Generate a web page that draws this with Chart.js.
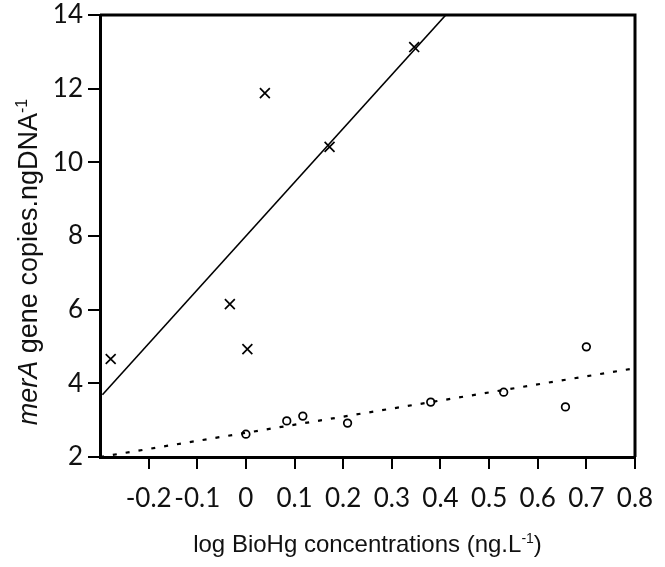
<!DOCTYPE html>
<html>
<head>
<meta charset="utf-8">
<script src="https://cdn.jsdelivr.net/npm/chart.js@4/dist/chart.umd.min.js"></script>
<style>
  html, body { margin: 0; padding: 0; background: #fff; }
  #wrap { width: 665px; height: 567px; }
</style>
</head>
<body>
<div id="wrap"><canvas id="chart" width="665" height="567"></canvas></div>
<script>
// values
const xTickValues = [-0.2, -0.1, 0, 0.1, 0.2, 0.3, 0.4, 0.5, 0.6, 0.7, 0.8];
const yTickValues = [2, 4, 6, 8, 10, 12, 14];

const crossX = [-0.278, -0.033, 0.003, 0.039, 0.172, 0.346];
const crossY = [4.66, 6.15, 4.93, 11.88, 10.42, 13.13];

const circleX = [0.0, 0.084, 0.117, 0.209, 0.38, 0.53, 0.657, 0.70];
const circleY = [2.62, 2.98, 3.11, 2.92, 3.49, 3.76, 3.36, 4.99];

// fitted lines, end points
const solidFitX = [-0.295, 0.411];
const solidFitY = [3.69, 14.0];
const dottedFitX = [-0.3, 0.8];
const dottedFitY = [2.0, 4.41];

const xTitleParts = [
  { text: 'log BioHg concentrations (ng.L' },
  { text: '-1', sup: true },
  { text: ')' }
];
const yTitleParts = [
  { text: 'merA', italic: true },
  { text: ' gene copies.ngDNA' },
  { text: '-1', sup: true }
];

const ink = '#111';
const tickFont = { family: 'Lato', size: 26, lineHeight: 1 };

function toPoints(xs, ys) {
  return xs.map((x, i) => ({ x: x, y: ys[i] }));
}

function partFont(part, size) {
  const s = part.sup ? Math.round(size * 0.6) : size;
  return (part.italic ? 'italic ' : '') + s + 'px "Liberation Sans", Arial, sans-serif';
}

// draws a centered line of text with italic / superscript pieces
function drawRichText(ctx, parts, cx, baseline, size) {
  let total = 0;
  parts.forEach(p => {
    ctx.font = partFont(p, size);
    total += ctx.measureText(p.text).width;
  });
  let x = cx - total / 2;
  parts.forEach(p => {
    ctx.font = partFont(p, size);
    const y = p.sup ? baseline - size * 0.38 : baseline;
    ctx.fillText(p.text, x, y);
    x += ctx.measureText(p.text).width;
  });
}

const frameAndTitles = {
  id: 'frameAndTitles',
  afterDraw(chart) {
    const ctx = chart.ctx;
    const area = chart.chartArea;
    ctx.save();
    // top and right sides of the box
    ctx.strokeStyle = '#000';
    ctx.lineWidth = 3;
    ctx.beginPath();
    ctx.moveTo(area.left, area.top);
    ctx.lineTo(area.right, area.top);
    ctx.lineTo(area.right, area.bottom);
    ctx.stroke();

    ctx.fillStyle = ink;
    ctx.textAlign = 'left';
    ctx.textBaseline = 'alphabetic';
    drawRichText(ctx, xTitleParts, (area.left + area.right) / 2, 552, 24);

    ctx.translate(37, 262);
    ctx.rotate(-Math.PI / 2);
    drawRichText(ctx, yTitleParts, 0, 0, 27);
    ctx.restore();
  }
};

new Chart(document.getElementById('chart'), {
  type: 'scatter',
  data: {
    datasets: [
      {
        data: toPoints(crossX, crossY),
        pointStyle: 'crossRot',
        pointRadius: 7,
        borderColor: '#000',
        borderWidth: 1.7
      },
      {
        data: toPoints(circleX, circleY),
        pointStyle: 'circle',
        pointRadius: 3.8,
        backgroundColor: 'rgba(0,0,0,0)',
        borderColor: '#000',
        borderWidth: 1.7
      },
      {
        type: 'line',
        data: toPoints(solidFitX, solidFitY),
        borderColor: '#000',
        borderWidth: 1.6,
        pointRadius: 0,
        fill: false
      },
      {
        type: 'line',
        data: toPoints(dottedFitX, dottedFitY),
        borderColor: '#000',
        borderWidth: 2.2,
        borderDash: [4, 9],
        pointRadius: 0,
        fill: false
      }
    ]
  },
  options: {
    responsive: false,
    animation: false,
    layout: { padding: { top: 15, right: 30, left: 0, bottom: 0 } },
    plugins: {
      legend: { display: false },
      tooltip: { enabled: false }
    },
    scales: {
      x: {
        type: 'linear',
        min: -0.3,
        max: 0.8,
        afterBuildTicks: axis => {
          axis.ticks = xTickValues.map(v => ({ value: v }));
        },
        afterFit: axis => {
          axis.height = 110;
          axis.paddingLeft = 0;
          axis.paddingRight = 0;
        },
        ticks: {
          color: ink,
          font: tickFont,
          padding: 17,
          maxRotation: 0,
          autoSkip: false,
          callback: v => String(Math.round(v * 10) / 10)
        },
        grid: {
          drawOnChartArea: false,
          drawTicks: true,
          tickLength: 12,
          color: '#000',
          lineWidth: 2
        },
        border: { display: true, color: '#000', width: 3 }
      },
      y: {
        type: 'linear',
        min: 2,
        max: 14,
        afterBuildTicks: axis => {
          axis.ticks = yTickValues.map(v => ({ value: v }));
        },
        afterFit: axis => {
          axis.width = 100;
          axis.paddingTop = 0;
          axis.paddingBottom = 0;
        },
        ticks: {
          color: ink,
          font: tickFont,
          padding: 5,
          autoSkip: false
        },
        grid: {
          drawOnChartArea: false,
          drawTicks: true,
          tickLength: 12,
          color: '#000',
          lineWidth: 2
        },
        border: { display: true, color: '#000', width: 3 }
      }
    }
  },
  plugins: [frameAndTitles]
});
</script>
</body>
</html>
